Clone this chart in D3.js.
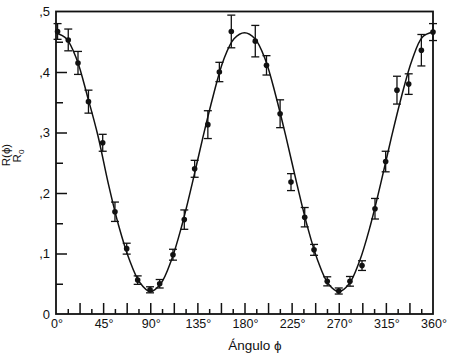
<!DOCTYPE html>
<html><head><meta charset="utf-8">
<script src="https://cdn.jsdelivr.net/npm/d3@7"></script>
<style>body{margin:0;background:#fff}svg{display:block;font-family:"Liberation Sans",Arial,sans-serif}</style>
</head><body><svg id="c" width="450" height="356"></svg>
<script>
// measured data points: angle (deg), R/R0, error half-width
const angles = [1.5, 11.7, 21, 31, 44.6, 56.3, 67.5, 78, 89.8, 99, 111.7, 122.5, 132.4, 145, 156, 167.4, 190.3, 201, 214, 224.4, 237.5, 246.4, 259, 270, 280.7, 292.2, 304.6, 314.8, 325.6, 336.8, 348.9, 360];
const values = [0.467, 0.453, 0.415, 0.351, 0.283, 0.169, 0.108, 0.056, 0.040, 0.050, 0.098, 0.156, 0.240, 0.313, 0.400, 0.467, 0.451, 0.411, 0.331, 0.218, 0.160, 0.106, 0.054, 0.038, 0.054, 0.080, 0.174, 0.252, 0.370, 0.380, 0.436, 0.466];
const errors = [0.013, 0.018, 0.019, 0.019, 0.014, 0.016, 0.009, 0.007, 0.005, 0.007, 0.009, 0.016, 0.014, 0.023, 0.016, 0.027, 0.026, 0.016, 0.023, 0.014, 0.016, 0.009, 0.0075, 0.005, 0.008, 0.008, 0.017, 0.017, 0.023, 0.017, 0.026, 0.014];
// fitted curve
const curveAngles = [0, 10, 20, 30, 40, 50, 60, 70, 80, 90, 100, 110, 120, 130, 140, 150, 160, 170, 180, 190, 200, 210, 220, 230, 240, 250, 260, 270, 280, 290, 300, 310, 320, 330, 340, 350, 360];
const curveValues = [0.465, 0.455, 0.42, 0.36, 0.295, 0.215, 0.145, 0.09, 0.052, 0.037, 0.05, 0.088, 0.145, 0.215, 0.29, 0.36, 0.42, 0.455, 0.465, 0.455, 0.42, 0.36, 0.29, 0.215, 0.145, 0.088, 0.05, 0.037, 0.05, 0.088, 0.145, 0.215, 0.29, 0.36, 0.42, 0.458, 0.466];
const xTickValues = [0, 45, 90, 135, 180, 225, 270, 315, 360];
const xTickLabels = ["0°", "45°", "90°", "135°", "180°", "225°", "270°", "315°", "360°"];
const yTickValues = [0, 0.1, 0.2, 0.3, 0.4, 0.5];
const yTickLabels = ["0", ",1", ",2", ",3", ",4", ",5"];

const svg = d3.select("#c");
const L = 56, R = 433, T = 11.5, B = 314;
const x = d3.scaleLinear().domain([0, 360]).range([L, R]);
const y = d3.scaleLinear().domain([0, 0.5]).range([B, T]);

// frame
svg.append("rect").attr("x", L).attr("y", T).attr("width", R - L).attr("height", B - T)
  .attr("fill", "none").attr("stroke", "#111").attr("stroke-width", 1.8);

// x ticks (inward)
const xMinor = d3.range(0, 361, 11.25);
const xAxis = d3.axisBottom(x).tickValues(xMinor).tickSize(0).tickFormat("");
const gx = svg.append("g").attr("transform", `translate(0,${B})`).call(xAxis);
gx.select(".domain").remove();
gx.selectAll(".tick").append("line")
  .attr("y2", d => (Math.round(d / 11.25) % 2 === 0) ? -11 : -5)
  .attr("stroke", "#111").attr("stroke-width", 1.5);
gx.selectAll(".tick").filter(d => d === 0 || d === 360).select("line:last-child").remove();
svg.append("g").selectAll("text").data(xTickValues).join("text")
  .attr("x", d => x(d) + 1).attr("y", 328).attr("text-anchor", "middle")
  .attr("font-size", 12.5).attr("fill", "#111").text((d, i) => xTickLabels[i]);

// y ticks (inward)
const yMinor = d3.range(0, 0.5001, 0.05);
const gy = svg.append("g").attr("transform", `translate(${L},0)`)
  .call(d3.axisLeft(y).tickValues(yMinor).tickSize(0).tickFormat(""));
gy.select(".domain").remove();
gy.selectAll(".tick").filter(d => d > 0.001 && d < 0.499).append("line")
  .attr("x2", d => (Math.round(d / 0.05) % 2 === 0) ? 11 : 7)
  .attr("stroke", "#111").attr("stroke-width", 1.5);
svg.append("g").selectAll("text").data(yTickValues).join("text")
  .attr("x", 50).attr("y", d => y(d) + 4.5).attr("text-anchor", "end")
  .attr("font-size", 13).attr("fill", "#111").text((d, i) => yTickLabels[i]);

// axis titles
svg.append("text").attr("x", 255).attr("y", 350).attr("text-anchor", "middle")
  .attr("font-size", 13.5).attr("fill", "#111").text("Ángulo ϕ");
svg.append("text").attr("transform", "translate(10,155) rotate(-90)").attr("text-anchor", "middle")
  .attr("font-size", 11.5).attr("fill", "#111").text("R(ϕ)");
const r0 = svg.append("text").attr("transform", "translate(21,156) rotate(-90)").attr("text-anchor", "middle")
  .attr("font-size", 11.5).attr("fill", "#111");
r0.append("tspan").text("R");
r0.append("tspan").attr("font-size", 8).attr("dy", 3).text("0");

// curve
const line = d3.line().x(d => x(d[0])).y(d => y(d[1])).curve(d3.curveCatmullRom.alpha(0.5));
svg.append("path").datum(curveAngles.map((a, i) => [a, curveValues[i]]))
  .attr("d", line).attr("fill", "none").attr("stroke", "#111").attr("stroke-width", 1.5);

// error bars + points
const pts = angles.map((a, i) => ({a, v: values[i], e: errors[i]}));
const eb = svg.append("g").attr("stroke", "#111").attr("stroke-width", 1.3);
eb.selectAll(".v").data(pts).join("line")
  .attr("x1", d => x(d.a)).attr("x2", d => x(d.a)).attr("y1", d => y(d.v - d.e)).attr("y2", d => y(d.v + d.e));
eb.selectAll(".t").data(pts).join("line").attr("class", "t")
  .attr("x1", d => x(d.a) - 4).attr("x2", d => x(d.a) + 4).attr("y1", d => y(d.v + d.e)).attr("y2", d => y(d.v + d.e));
eb.selectAll(".b").data(pts).join("line").attr("class", "b")
  .attr("x1", d => x(d.a) - 4).attr("x2", d => x(d.a) + 4).attr("y1", d => y(d.v - d.e)).attr("y2", d => y(d.v - d.e));
svg.append("g").selectAll("circle").data(pts).join("circle")
  .attr("cx", d => x(d.a)).attr("cy", d => y(d.v)).attr("r", 2.8).attr("fill", "#111");
</script></body></html>
